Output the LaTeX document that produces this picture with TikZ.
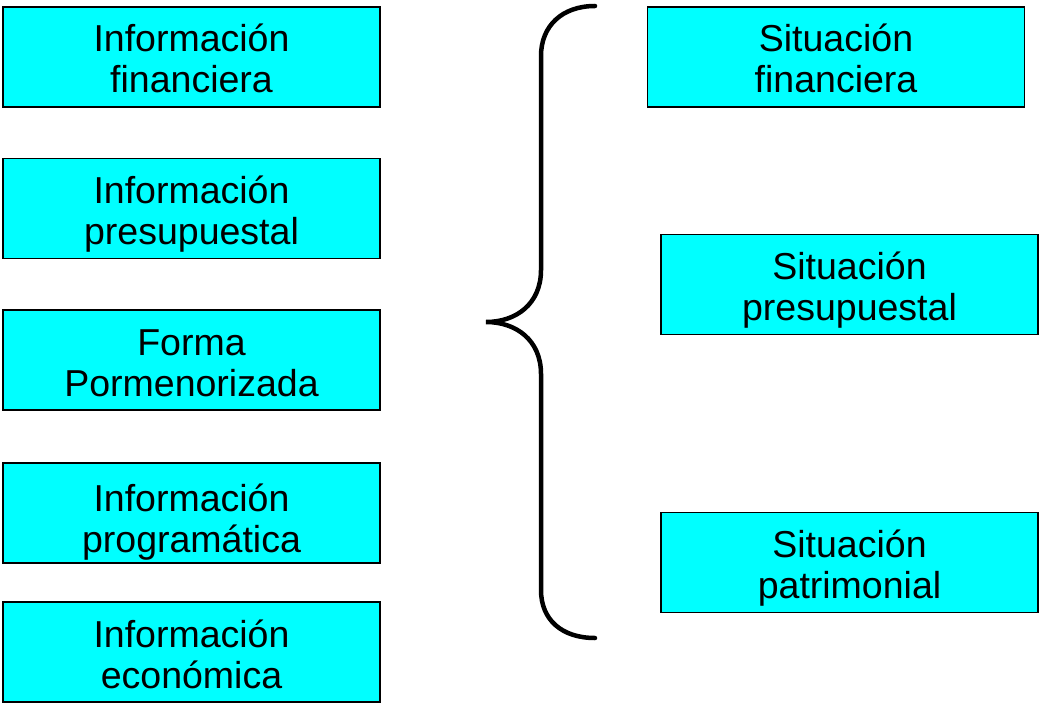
\documentclass[tikz,border=0pt]{standalone}
\usepackage{fontspec}
\setmainfont{Liberation Sans}
\usetikzlibrary{positioning}
\definecolor{aqua}{RGB}{0,255,255}
\begin{document}
\begin{tikzpicture}[x=1pt, y=-1pt,
  every node/.style = {shape=rectangle, draw=black, line width=1.5pt,
    fill=aqua, align=center, inner sep=0pt,
    minimum width=377pt, minimum height=100pt,
    text height=80pt, text depth=8pt,
    font=\fontsize{37.5pt}{41pt}\selectfont},
  brace/.style = {line width=4.5pt, line cap=round}]
  \useasboundingbox (0,0) rectangle (1040,703);
  % left column
  \node (infofin) at (191.5,57) {Información\\financiera};
  \node (infopres) at (191.5,208.5) {Información\\presupuestal};
  \node (forma) at (191.5,360) {Forma\\Pormenorizada};
  \node[text height=86pt] (infoprog) at (191.5,513) {Información\\programática};
  \node (infoeco) at (191.5,652) {Información\\económica};
  % right column
  \node (sitfin) at (836,57) {Situación\\financiera};
  \node (sitpres) at (849.5,284.5) {Situación\\presupuestal};
  \node (sitpat) at (849.5,562.5) {Situación\\patrimonial};
  % the brace
  \draw[brace] (595,6) .. controls (562,6) and (541,26) .. (541,56)
    -- (541,270) .. controls (541,304) and (516,322) .. (486,322)
    .. controls (516,322) and (541,340) .. (541,374)
    -- (541,590) .. controls (541,620) and (562,638) .. (595,638);
\end{tikzpicture}
\end{document}
